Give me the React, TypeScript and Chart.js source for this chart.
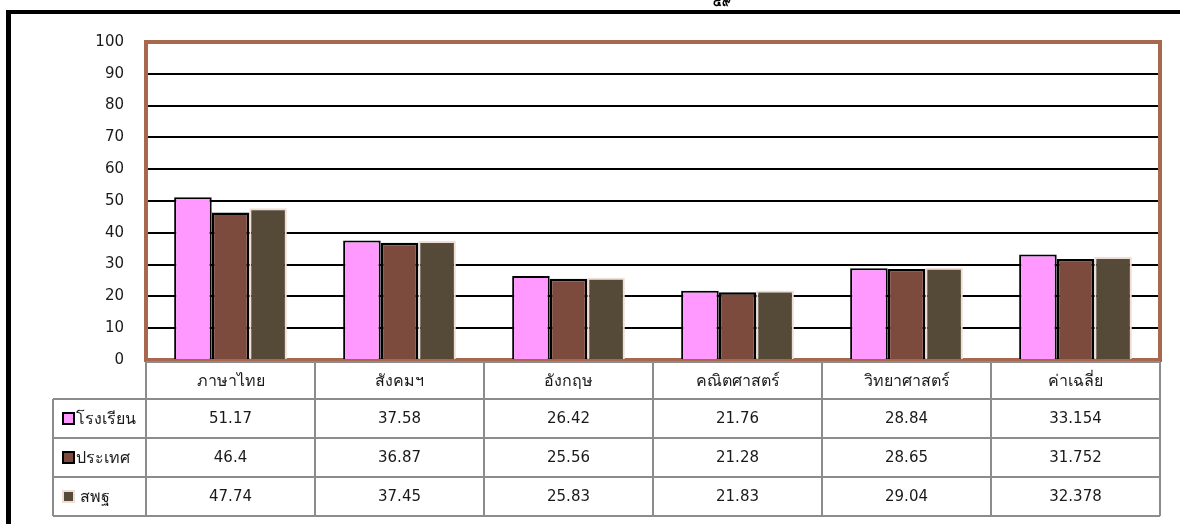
import React, { useEffect, useRef } from 'react';
import { Chart, registerables } from 'chart.js';

Chart.register(...registerables);

const categories = ['ภาษาไทย', 'สังคมฯ', 'อังกฤษ', 'คณิตศาสตร์', 'วิทยาศาสตร์', 'ค่าเฉลี่ย'];
const seriesNames = ['โรงเรียน', 'ประเทศ', 'สพฐ'];
const schoolValues = [51.17, 37.58, 26.42, 21.76, 28.84, 33.154];
const countryValues = [46.4, 36.87, 25.56, 21.28, 28.65, 31.752];
const obecValues = [47.74, 37.45, 25.83, 21.83, 29.04, 32.378];
const yMin = 0;
const yMax = 100;
const yStep = 10;
const pageNumber = '๔๙';

const FONT = "Tahoma, 'DejaVu Sans', 'Noto Sans', sans-serif";
const fills = ['#FF99FF', '#7D4B3D', '#544A37'];
const borders = ['#000000', '#000000', '#F0DED6'];
const borderWidths = [2, 2.5, 2];

const tablePlugin = {
  id: 'dataTable',
  beforeDraw(chart: any) {
    const ctx = chart.ctx;
    ctx.save();
    ctx.fillStyle = '#000';
    ctx.fillRect(6, 10, 5, 600);
    ctx.fillRect(6, 10, 1180, 4);
    ctx.font = `bold 12px ${FONT}`;
    ctx.textAlign = 'center';
    ctx.textBaseline = 'bottom';
    ctx.fillText(pageNumber, 722, 9);
    ctx.restore();
  },
  beforeDatasetsDraw(chart: any) {
    const ctx = chart.ctx;
    const a = chart.chartArea;
    ctx.save();
    ctx.strokeStyle = '#A8684F';
    ctx.lineWidth = 4;
    ctx.strokeRect(a.left, a.top, a.right - a.left, a.bottom - a.top);
    ctx.restore();
  },
  afterDraw(chart: any) {
    const ctx = chart.ctx;
    const a = chart.chartArea;
    const xs = chart.scales.x;
    const n = categories.length;
    const cw = (a.right - a.left) / n;
    const headTop = a.bottom + 2;
    const headH = 37;
    const rowH = 39;
    const labelLeft = 53;
    const rowTops = [headTop + headH, headTop + headH + rowH, headTop + headH + 2 * rowH];
    const tableBottom = headTop + headH + 3 * rowH;
    const rows = [schoolValues, countryValues, obecValues];

    ctx.save();
    ctx.fillStyle = '#fff';
    ctx.fillRect(labelLeft, rowTops[0], a.right - labelLeft, tableBottom - rowTops[0]);
    ctx.fillRect(a.left, headTop, a.right - a.left, headH);

    ctx.strokeStyle = '#8C8C8C';
    ctx.lineWidth = 2;
    ctx.beginPath();
    ctx.moveTo(a.left, headTop);
    ctx.lineTo(a.right, headTop);
    for (const t of rowTops) {
      ctx.moveTo(labelLeft, t);
      ctx.lineTo(a.right, t);
    }
    ctx.moveTo(labelLeft, tableBottom);
    ctx.lineTo(a.right, tableBottom);
    ctx.moveTo(labelLeft, rowTops[0]);
    ctx.lineTo(labelLeft, tableBottom);
    for (let i = 0; i <= n; i++) {
      const x = a.left + i * cw;
      ctx.moveTo(x, headTop);
      ctx.lineTo(x, tableBottom);
    }
    ctx.stroke();

    ctx.fillStyle = '#1a1a1a';
    ctx.textAlign = 'center';
    ctx.textBaseline = 'middle';
    for (let i = 0; i < n; i++) {
      const cx = xs.getPixelForValue(i);
      ctx.font = `16px ${FONT}`;
      ctx.fillText(categories[i], cx, headTop + headH / 2 + 1);
      ctx.font = `15px ${FONT}`;
      for (let r = 0; r < rows.length; r++) {
        ctx.fillText(String(rows[r][i]), cx, rowTops[r] + rowH / 2 + 1);
      }
    }

    ctx.textAlign = 'left';
    ctx.font = `16px ${FONT}`;
    for (let r = 0; r < seriesNames.length; r++) {
      const cy = rowTops[r] + rowH / 2;
      const sx = 63;
      const s = 11;
      ctx.fillStyle = fills[r];
      ctx.fillRect(sx, cy - s / 2, s, s);
      ctx.strokeStyle = borders[r];
      ctx.lineWidth = 2;
      ctx.strokeRect(sx, cy - s / 2, s, s);
      ctx.fillStyle = '#1a1a1a';
      ctx.fillText(seriesNames[r], r === 2 ? 80 : 76, cy + 1);
    }
    ctx.restore();
  },
};

export default function App() {
  const ref = useRef<HTMLCanvasElement | null>(null);

  useEffect(() => {
    if (!ref.current) return;
    const datasets = [schoolValues, countryValues, obecValues].map((vals, i) => ({
      label: seriesNames[i],
      data: vals,
      backgroundColor: fills[i],
      borderColor: borders[i],
      borderWidth: borderWidths[i],
      categoryPercentage: 0.667,
      barPercentage: 1.0,
    }));
    const chart = new Chart(ref.current, {
      type: 'bar',
      data: { labels: categories, datasets },
      options: {
        animation: false,
        responsive: false,
        devicePixelRatio: 1,
        layout: { padding: { left: 0, right: 20, top: 42, bottom: 164 } },
        plugins: {
          legend: { display: false },
          tooltip: { enabled: false },
          title: { display: false },
        },
        scales: {
          x: { display: false },
          y: {
            min: yMin,
            max: yMax,
            ticks: {
              stepSize: yStep,
              color: '#1a1a1a',
              font: { family: FONT, size: 15 },
              padding: 22,
            },
            grid: {
              drawTicks: false,
              color: (c: any) => (c.tick && c.tick.value === 0 ? 'rgba(0,0,0,0)' : '#000'),
              lineWidth: 2,
            },
            border: { display: false },
            afterFit: (s: any) => {
              s.width = 146;
            },
          },
        },
      },
      plugins: [tablePlugin],
    });
    return () => chart.destroy();
  }, []);

  return (
    <div style={{ position: 'absolute', left: 0, top: 0, width: 1180, height: 524, background: '#fff' }}>
      <canvas ref={ref} width={1180} height={524} style={{ display: 'block' }} />
    </div>
  );
}
